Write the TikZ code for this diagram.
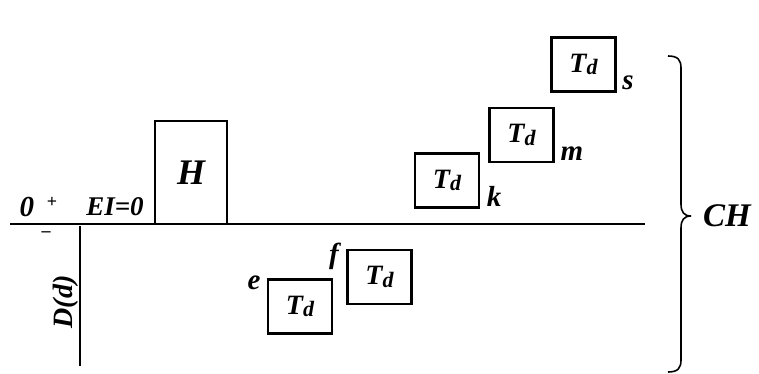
\documentclass[tikz,border=0pt]{standalone}
\usepackage{fontspec}
\setmainfont{Liberation Serif}
\newcommand{\tdsym}{T\raisebox{-2.5pt}{\fontsize{22}{22}\selectfont d}}
\begin{document}
\begin{tikzpicture}[x=1pt,y=-1pt,
  field/.style={draw,line width=2.6pt,inner sep=0pt,font=\fontsize{28}{28}\selectfont\itshape\bfseries},
  tdbox/.style={field,minimum width=64pt,minimum height=54pt},
  lbl/.style={inner sep=0pt,font=\fontsize{29}{29}\selectfont\itshape\bfseries},
  sign/.style={inner sep=0pt,font=\fontsize{18}{18}\selectfont\bfseries},
  axis/.style={line width=1.4pt}]
\useasboundingbox (0,0) rectangle (759,373);
% zero line and deviation axis
\coordinate (zl) at (10,224);
\coordinate (zr) at (645,224);
\coordinate (vt) at (80,226);
\coordinate (vb) at (80,366);
\draw[axis] (zl) -- (zr);
\draw[axis] (vt) -- (vb);
\node[lbl] (zero) at (27,207) {0};
\node[sign] (plus) at (52,202) {+};
\node[sign] (minus) at (46,234) {\char"2013};
\node[lbl,font=\fontsize{27}{27}\selectfont\itshape\bfseries] (ei) at (115,207) {EI=0};
\node[lbl,rotate=90,font=\fontsize{28}{28}\selectfont\itshape\bfseries] (dd) at (66,302) {D(d)};
% hole tolerance field
\node[field,minimum width=72pt,minimum height=103pt,font=\fontsize{36}{36}\selectfont\itshape\bfseries] (H) at (191,172.5) {H};
% shaft tolerance fields
\node[tdbox] (e) at (300,306.5) {\tdsym};
\node[tdbox] (f) at (379.5,277) {\tdsym};
\node[tdbox] (k) at (447,180.5) {\tdsym};
\node[tdbox] (m) at (521.5,135) {\tdsym};
\node[tdbox] (s) at (583.5,64.5) {\tdsym};
\node[lbl] (le) at (254,283) {e};
\node[lbl] (lf) at (334,256) {f};
\node[lbl] (lk) at (494,196) {k};
\node[lbl] (lm) at (572,154) {m};
\node[lbl] (ls) at (628,83) {s};
% brace over the shaft fields
\coordinate (bt) at (668,56);
\coordinate (bm) at (691,216);
\coordinate (bb) at (668,372);
\draw[line width=1.6pt] (bt) .. controls (678,56) and (681,60) .. (681,68)
  -- (681,204) .. controls (681,212) and (684,216) .. (bm)
  .. controls (684,216) and (681,220) .. (681,228)
  -- (681,360) .. controls (681,368) and (678,372) .. (bb);
\node[lbl,font=\fontsize{33}{33}\selectfont\itshape\bfseries] (ch) at (727,216) {CH};
\end{tikzpicture}
\end{document}
